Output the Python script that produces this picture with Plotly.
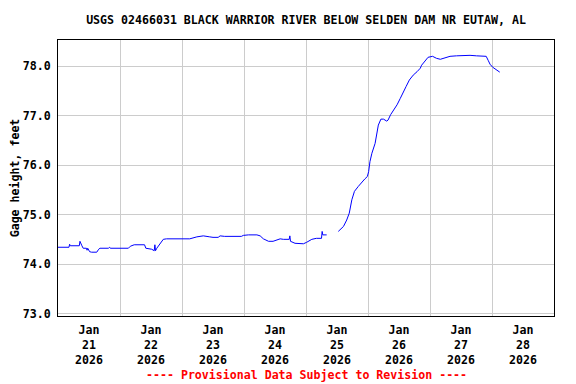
import plotly.graph_objects as go

# ---- data ----
times = [
    "2026-01-21 00:00", "2026-01-21 04:15", "2026-01-21 04:30", "2026-01-21 04:45",
    "2026-01-21 08:15", "2026-01-21 08:30", "2026-01-21 09:15", "2026-01-21 09:45",
    "2026-01-21 11:00", "2026-01-21 11:15", "2026-01-21 11:30", "2026-01-21 12:15",
    "2026-01-21 13:00", "2026-01-21 15:00", "2026-01-21 15:45", "2026-01-21 16:15",
    "2026-01-21 19:30", "2026-01-21 20:00", "2026-01-21 20:15", "2026-01-22 03:15",
    "2026-01-22 04:00", "2026-01-22 05:30", "2026-01-22 09:30", "2026-01-22 10:00",
    "2026-01-22 12:15", "2026-01-22 13:00", "2026-01-22 13:15", "2026-01-22 13:30",
    "2026-01-22 13:45", "2026-01-22 14:15", "2026-01-22 15:30", "2026-01-22 16:45",
    "2026-01-22 18:00", "2026-01-22 23:15", "2026-01-23 00:30", "2026-01-23 03:00",
    "2026-01-23 05:45", "2026-01-23 08:15", "2026-01-23 10:45", "2026-01-23 12:00",
    "2026-01-23 14:00", "2026-01-23 14:45", "2026-01-23 16:30", "2026-01-23 18:30",
    "2026-01-23 23:00", "2026-01-23 23:45", "2026-01-24 01:45", "2026-01-24 05:00",
    "2026-01-24 06:15", "2026-01-24 07:30", "2026-01-24 09:30", "2026-01-24 11:15",
    "2026-01-24 12:30", "2026-01-24 14:00", "2026-01-24 15:15", "2026-01-24 17:15",
    "2026-01-24 17:30", "2026-01-24 17:45", "2026-01-24 18:00", "2026-01-24 19:45",
    "2026-01-24 23:00", "2026-01-25 00:15", "2026-01-25 02:15", "2026-01-25 04:00",
    "2026-01-25 05:30", "2026-01-25 06:00", "2026-01-25 06:15", "2026-01-25 06:30",
    "2026-01-25 08:00",
    "2026-01-25 10:00",
    "2026-01-25 12:30", "2026-01-25 14:30", "2026-01-25 15:45", "2026-01-25 16:45",
    "2026-01-25 17:45", "2026-01-25 18:45", "2026-01-25 20:15", "2026-01-25 21:30",
    "2026-01-25 22:45", "2026-01-25 23:45", "2026-01-26 00:15", "2026-01-26 00:45",
    "2026-01-26 01:30", "2026-01-26 02:45", "2026-01-26 03:15", "2026-01-26 04:00",
    "2026-01-26 05:00", "2026-01-26 06:00", "2026-01-26 07:15", "2026-01-26 07:45",
    "2026-01-26 08:45", "2026-01-26 10:00", "2026-01-26 11:15", "2026-01-26 12:30",
    "2026-01-26 13:30", "2026-01-26 14:45", "2026-01-26 16:00", "2026-01-26 17:30",
    "2026-01-26 19:00", "2026-01-26 20:15", "2026-01-26 20:45", "2026-01-26 22:00",
    "2026-01-26 23:15", "2026-01-27 01:00", "2026-01-27 02:30", "2026-01-27 04:00",
    "2026-01-27 05:30", "2026-01-27 06:30", "2026-01-27 07:45", "2026-01-27 10:15",
    "2026-01-27 13:00", "2026-01-27 15:30", "2026-01-27 18:00", "2026-01-27 20:30",
    "2026-01-27 21:45", "2026-01-27 22:30", "2026-01-27 23:15", "2026-01-28 00:15",
    "2026-01-28 01:30", "2026-01-28 03:00",
]
gage_height = [
    74.34, 74.34, 74.40, 74.37,
    74.37, 74.46, 74.37, 74.32,
    74.32, 74.28, 74.32, 74.25,
    74.24, 74.24, 74.30, 74.32,
    74.32, 74.34, 74.32, 74.32,
    74.36, 74.39, 74.39, 74.32,
    74.30, 74.27, 74.27, 74.39,
    74.27, 74.32, 74.41, 74.50,
    74.51, 74.51, 74.50, 74.51,
    74.55, 74.57, 74.55, 74.54,
    74.54, 74.57, 74.56, 74.56,
    74.56, 74.58, 74.59, 74.59,
    74.57, 74.51, 74.46, 74.46,
    74.49, 74.51, 74.50, 74.50,
    74.50, 74.57, 74.46, 74.42,
    74.41, 74.44, 74.50, 74.52,
    74.52, 74.52, 74.66, 74.59,
    74.59,
    None,
    74.66, 74.76, 74.89, 75.03,
    75.30, 75.47, 75.57, 75.65,
    75.72, 75.77, 75.87, 76.07,
    76.24, 76.44, 76.61, 76.81,
    76.93, 76.93, 76.89, 76.91,
    77.02, 77.12, 77.22, 77.35,
    77.47, 77.59, 77.72, 77.82,
    77.89, 77.96, 78.02, 78.11,
    78.18, 78.20, 78.16, 78.14,
    78.16, 78.17, 78.20, 78.21,
    78.22, 78.22, 78.21, 78.21,
    78.20, 78.12, 78.04, 77.98,
    77.94, 77.88,
]

day_ticks = ["2026-01-21 12:00", "2026-01-22 12:00", "2026-01-23 12:00", "2026-01-24 12:00",
             "2026-01-25 12:00", "2026-01-26 12:00", "2026-01-27 12:00", "2026-01-28 12:00"]
day_labels = ["Jan<br>21<br>2026", "Jan<br>22<br>2026", "Jan<br>23<br>2026", "Jan<br>24<br>2026",
              "Jan<br>25<br>2026", "Jan<br>26<br>2026", "Jan<br>27<br>2026", "Jan<br>28<br>2026"]
y_ticks = [73.0, 74.0, 75.0, 76.0, 77.0, 78.0]
y_labels = ["73.0", "74.0", "75.0", "76.0", "77.0", "78.0"]

title_text = "USGS 02466031 BLACK WARRIOR RIVER BELOW SELDEN DAM NR EUTAW, AL"
y_title = "Gage height, feet"
footer = "---- Provisional Data Subject to Revision ----"

FONT = "DejaVu Sans Mono"
FS = 11.6
GRID = "#cccccc"
# the page body adds an 8px offset; the figure is sized to fit the window
W, H = 568, 376

fig = go.Figure()
fig.add_trace(go.Scatter(x=times, y=gage_height, mode="lines",
                         line=dict(color="#0000ff", width=1), connectgaps=False,
                         hoverinfo="skip"))

fig.update_layout(
    width=W, height=H,
    margin=dict(l=50, r=22, t=32, b=68),
    paper_bgcolor="white", plot_bgcolor="white",
    showlegend=False,
    font=dict(family=FONT, size=FS, color="black", weight="bold"),
    title=dict(text=title_text, x=0.5, xref="paper", xanchor="center",
               y=1 - 11.5 / H, yref="container", yanchor="middle",
               font=dict(family=FONT, size=FS, color="black", weight="bold")),
)

fig.update_xaxes(
    type="date",
    range=["2026-01-21 00:00", "2026-01-29 00:00"],
    tickmode="array", tickvals=day_ticks, ticktext=day_labels,
    showgrid=False, ticks="", ticklabelstandoff=3,
    minor=dict(tick0="2026-01-21 00:00", dtick=86400000, showgrid=True,
               gridcolor=GRID, gridwidth=1, ticks=""),
    showline=True, linecolor="black", linewidth=1, mirror=True,
    zeroline=False, automargin=False,
    tickfont=dict(family=FONT, size=FS, color="black", weight="bold"),
)

fig.update_yaxes(
    range=[72.95, 78.53],
    tickmode="array", tickvals=y_ticks, ticktext=y_labels,
    showgrid=True, gridcolor=GRID, gridwidth=1, ticks="",
    ticklabelstandoff=4,
    showline=True, linecolor="black", linewidth=1, mirror=True,
    zeroline=False, automargin=False,
    title=dict(text=y_title, standoff=1,
               font=dict(family=FONT, size=FS, color="black", weight="bold")),
    tickfont=dict(family=FONT, size=FS, color="black", weight="bold"),
)

fig.add_annotation(text=footer, xref="paper", yref="paper", x=0.5, y=-59 / 276,
                   xanchor="center", yanchor="middle", showarrow=False,
                   font=dict(family=FONT, size=FS, color="red", weight="bold"))

fig.write_html("out.html")
